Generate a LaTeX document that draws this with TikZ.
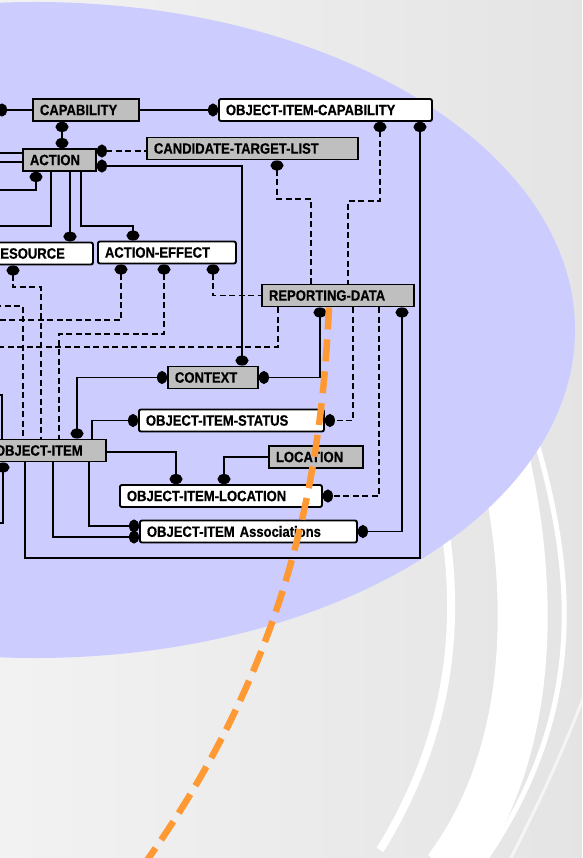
\documentclass[tikz,border=0pt]{standalone}
\usepackage{fontspec}
\setmainfont{Liberation Sans}[FakeStretch=0.87,BoldFeatures={FakeBold=0.5}]
\usepackage{xcolor}
\usetikzlibrary{arrows.meta}
\definecolor{lav}{HTML}{CCCCFF}
\definecolor{flow}{HTML}{FF9933}

\begin{document}
\begin{tikzpicture}[x=1pt,y=-1pt,
  >={Ellipse[length=10pt,width=13pt]},
  ent/.style={draw,line width=1.9pt,anchor=west,minimum height=22pt,inner xsep=7pt,inner ysep=0pt,align=left,font=\fontsize{15}{16}\selectfont\bfseries},
  indep/.style={ent,fill=gray!50},
  dep/.style={ent,fill=white,rounded corners=2pt},
  rel/.style={line width=1.5pt},
  nrel/.style={rel,dash pattern=on 6pt off 3.5pt}]
\useasboundingbox (0,0) rectangle (582,858);
\clip (0,0) rectangle (582,858);
% background and swooshes
\shade[left color=gray!10,right color=gray!21] (0,0) rectangle (582,858);
\draw[white,line width=50pt] (500,440) .. controls (530,560) and (545,740) .. (448,870);
\draw[white,line width=8pt] (440,500) .. controls (460,600) and (460,720) .. (380,850);
\draw[white,line width=5pt] (530,420) .. controls (580,580) and (585,720) .. (478,870);
\draw[white,opacity=.6,line width=3pt] (590,680) .. controls (560,760) and (540,800) .. (505,870);
\fill[lav] (35,330) ellipse [x radius=540pt,y radius=328pt];

% entities
\node[indep,text width=92pt] (cap) at (32,110) {CAPABILITY};
\node[dep,text width=199pt] (oic) at (218,110) {OBJECT-ITEM-CAPABILITY};
\node[indep,text width=59pt] (act) at (22,160) {ACTION};
\node[indep,text width=197pt] (ctl) at (146,148.5) {CANDIDATE-TARGET-LIST};
\node[dep,text width=95pt] (res) at (-17,253.5) {RESOURCE};
\node[dep,text width=124pt] (ae) at (97,252.5) {ACTION-EFFECT};
\node[indep,text width=138pt] (rd) at (261,295.5) {REPORTING-DATA};
\node[indep,text width=76pt] (ctx) at (167,377.5) {CONTEXT};
\node[dep,text width=171pt] (ois) at (138,420.5) {OBJECT-ITEM-STATUS};
\node[indep,text width=104pt] (oi) at (-13,450.5) {OBJECT-ITEM};
\node[indep,text width=80pt] (loc) at (268,457) {LOCATION};
\node[dep,text width=188pt] (oil) at (119,496) {OBJECT-ITEM-LOCATION};
\node[dep,text width=203pt] (oia) at (139,531.5) {OBJECT-ITEM Associations};

% free ends beyond the left edge
\coordinate (w1) at (-3,110);
\coordinate (w2) at (-5,153);
\coordinate (w3) at (-5,162);
\coordinate (w4) at (-5,190);
\coordinate (w5) at (-5,226);
\coordinate (w6) at (-5,320);
\coordinate (w7) at (-5,306);
\coordinate (w8) at (-5,347);
\coordinate (w9) at (-5,395);
\coordinate (w10) at (-5,523);

% relationships
\draw[rel,<-] (w1) -- (cap.west);
\draw[rel,->] (cap.east) -- (oic.west);
\draw[rel,<->] (cap.south -| 62,0) -- (act.north -| 62,0);
\draw[nrel,<-] (act.east |- 0,151) -- (ctl.west |- 0,151);
\draw[rel,<->] (act.east |- 0,166) -| (ctx.north -| 242,0);
\draw[rel] (w2) -- (act.west |- w2);
\draw[rel] (w3) -- (act.west |- w3);
\draw[rel,<-] (act.south -| 36,0) |- (w4);
\draw[rel] (act.south -| 51,0) |- (w5);
\draw[rel,->,line width=2.8pt] (act.south -| 70,0) -- (res.north -| 70,0);
\draw[rel,->] (act.south -| 81,0) |- (133,226) -- (ae.north -| 133,0);
\draw[nrel,<-] (ctl.south -| 277,0) |- (311,199) -- (rd.north -| 311,0);
\draw[nrel,<-] (oic.south -| 380,0) |- (348,201) -- (rd.north -| 348,0);
\draw[rel,<-] (oic.south -| 420,0) |- (25,558) -- (oi.south -| 25,0);
\draw[nrel,<-] (res.south -| 13,0) |- (41,287) -- (oi.north -| 41,0);
\draw[nrel,<-] (ae.south -| 121,0) |- (w6);
\draw[nrel,<-] (ae.south -| 164,0) |- (59,334) -- (oi.north -| 59,0);
\draw[nrel,<-] (ae.south -| 213,0) |- (rd.west);
\draw[nrel] (w7) -| (oi.north -| 23,0);
\draw[nrel] (rd.south -| 278,0) |- (w8);
\draw[rel,<->] (rd.south -| 320,0) |- (ctx.east);
\draw[nrel,->] (rd.south -| 353,0) |- (ois.east);
\draw[nrel,->] (rd.south -| 379,0) |- (oil.east);
\draw[rel,<->] (rd.south -| 402,0) |- (oia.east);
\draw[rel,<->] (ctx.west) -| (oi.north -| 77,0);
\draw[rel,<-] (ois.west) -| (oi.north -| 92,0);
\draw[rel] (w9) -| (oi.north -| 2,0);
\draw[rel,<-] (oi.south -| 3,0) |- (w10);
\draw[rel,->] (oi.east |- 0,452) -| (oil.north -| 176,0);
\draw[rel,->] (loc.west) -| (oil.north -| 224,0);
\draw[rel,->] (oi.south -| 89,0) |- (oia.west |- 0,526);
\draw[rel,->] (oi.south -| 53,0) |- (oia.west |- 0,537);

% orange trace
\draw[flow,line width=6.5pt,dash pattern=on 22pt off 10pt] (rd.south -| 329,0) .. controls (322,450) and (300,650) .. (140,870);
\end{tikzpicture}
\end{document}
